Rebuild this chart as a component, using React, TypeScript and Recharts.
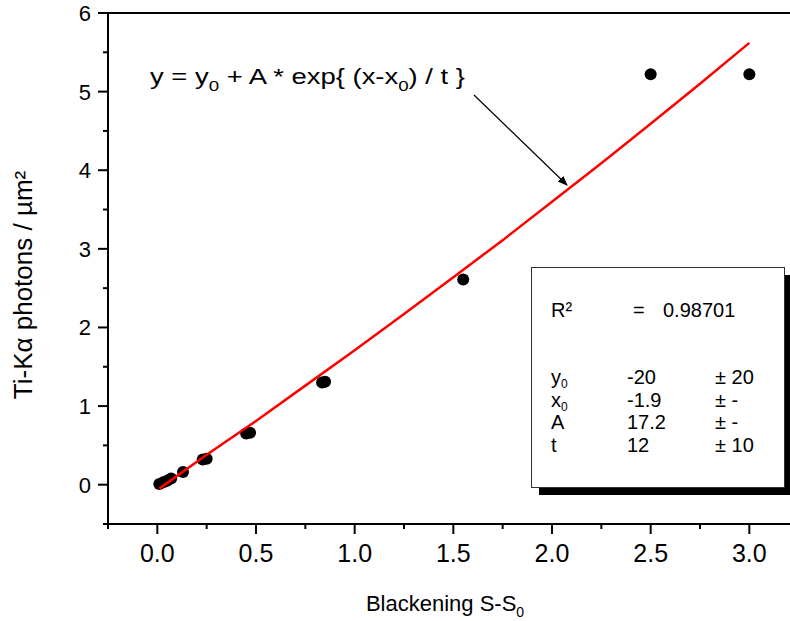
import React from 'react';
import { ScatterChart, Scatter, XAxis, YAxis } from 'recharts';

// measured points (blackening vs photons per µm²)
const pointX = [0.01, 0.03, 0.05, 0.07, 0.13, 0.23, 0.25, 0.45, 0.47, 0.835, 0.85, 1.55, 2.5, 3.0];
const pointY = [0.01, 0.03, 0.05, 0.08, 0.16, 0.32, 0.33, 0.65, 0.66, 1.3, 1.31, 2.61, 5.22, 5.22];

// fitted curve
const fitX = [0.01, 0.25, 0.5, 0.75, 1.0, 1.25, 1.5, 1.75, 2.0, 2.25, 2.5, 2.75, 3.0];
const fitY = [-0.05, 0.38, 0.81, 1.26, 1.71, 2.17, 2.64, 3.11, 3.6, 4.09, 4.59, 5.1, 5.62];

const xTicks = [-0.25, 0, 0.25, 0.5, 0.75, 1, 1.25, 1.5, 1.75, 2, 2.25, 2.5, 2.75, 3, 3.25, 3.5];
const yTicks = [-0.5, 0, 0.5, 1, 1.5, 2, 2.5, 3, 3.5, 4, 4.5, 5, 5.5, 6];

const fitParams = [
  { name: 'y', sub: '0', value: '-20', err: '± 20' },
  { name: 'x', sub: '0', value: '-1.9', err: '± -' },
  { name: 'A', sub: '', value: '17.2', err: '± -' },
  { name: 't', sub: '', value: '12', err: '± 10' },
];

const points = pointX.map((x, i) => ({ x, y: pointY[i] }));
const fit = fitX.map((x, i) => ({ x, y: fitY[i] }));

const FONT = '"Liberation Sans", Arial, sans-serif';

const isMajor = (v: number, step: number) => Math.abs(v / step - Math.round(v / step)) < 1e-6;

const BottomTick = ({ x, y, payload }: any) => {
  const major = isMajor(payload.value, 0.5);
  return (
    <g>
      <line x1={x} x2={x} y1={y} y2={y + (major ? 10 : 5)} stroke="#000" strokeWidth={2} />
      {major && payload.value >= 0 && payload.value <= 3 && (
        <text x={x} y={y + 38} textAnchor="middle" fontSize={25} fontFamily={FONT} fill="#000">
          {payload.value.toFixed(1)}
        </text>
      )}
    </g>
  );
};

const TopTick = ({ x, y, payload }: any) => {
  const major = isMajor(payload.value, 0.5);
  return <line x1={x} x2={x} y1={y} y2={y - (major ? 10 : 6)} stroke="#000" strokeWidth={2} />;
};

const LeftTick = ({ x, y, payload }: any) => {
  const major = isMajor(payload.value, 1);
  return (
    <g>
      <line x1={x} x2={x - (major ? 10 : 5)} y1={y} y2={y} stroke="#000" strokeWidth={2} />
      {major && (
        <text x={x - 17} y={y + 8} textAnchor="end" fontSize={22} fontFamily={FONT} fill="#000">
          {payload.value}
        </text>
      )}
    </g>
  );
};

const Dot = ({ cx, cy }: any) => <circle cx={cx} cy={cy} r={6} fill="#000" />;

export default function App() {
  return (
    <div style={{ position: 'absolute', left: 0, top: 0, width: 790, height: 621, overflow: 'hidden', background: '#fff' }}>
      <ScatterChart width={853} height={621} margin={{ top: 3, right: 5, bottom: 37, left: 48 }}>
        <XAxis
          dataKey="x"
          type="number"
          domain={[-0.25, 3.5]}
          ticks={xTicks}
          interval={0}
          height={60}
          tickSize={0}
          tickMargin={0}
          tickLine={false}
          axisLine={{ stroke: '#000', strokeWidth: 2 }}
          tick={BottomTick}
        />
        <XAxis
          xAxisId="top"
          orientation="top"
          type="number"
          domain={[-0.25, 3.5]}
          ticks={xTicks}
          interval={0}
          height={10}
          tickSize={0}
          tickMargin={0}
          tickLine={false}
          axisLine={{ stroke: '#000', strokeWidth: 2 }}
          tick={TopTick}
        />
        <YAxis
          dataKey="y"
          type="number"
          domain={[-0.5, 6]}
          ticks={yTicks}
          interval={0}
          width={60}
          tickSize={0}
          tickMargin={0}
          tickLine={false}
          axisLine={{ stroke: '#000', strokeWidth: 2 }}
          tick={LeftTick}
        />
        <Scatter data={points} shape={Dot} isAnimationActive={false} />
        <Scatter
          data={fit}
          line={{ stroke: '#ff0000', strokeWidth: 2.5 }}
          lineType="joint"
          shape={() => <g />}
          isAnimationActive={false}
        />
      </ScatterChart>

      <svg width={790} height={621} style={{ position: 'absolute', left: 0, top: 0, pointerEvents: 'none' }} fontFamily={FONT}>
        <defs>
          <marker id="arrow" markerWidth="10" markerHeight="8" refX="9" refY="4" orient="auto" markerUnits="userSpaceOnUse">
            <path d="M0,0 L10,4 L0,8 z" fill="#000" />
          </marker>
        </defs>
        <text x={150} y={84} fontSize={22} fill="#000" xmlSpace="preserve" textLength={315} lengthAdjust="spacingAndGlyphs">
          y = y<tspan fontSize={15} dy={7}>0</tspan>
          <tspan dy={-7}> + A * exp{'{'} (x-x</tspan>
          <tspan fontSize={15} dy={7}>0</tspan>
          <tspan dy={-7}>) / t {'}'}</tspan>
        </text>
        <line x1={474} y1={95} x2={567} y2={185} stroke="#000" strokeWidth={1.2} markerEnd="url(#arrow)" />

        <rect x={539} y={275} width={253} height={220} fill="#000" />
        <rect x={531.5} y={267.5} width={253} height={220} fill="#fff" stroke="#333" strokeWidth={1} />
        <text x={551} y={317} fontSize={20} fill="#000">R²</text>
        <text x={633} y={317} fontSize={20} fill="#000">=</text>
        <text x={663} y={317} fontSize={20} fill="#000">0.98701</text>
        {fitParams.map((p, i) => {
          const by = 384 + i * 22.7;
          return (
            <g key={p.name + i}>
              <text x={551} y={by} fontSize={20} fill="#000">
                {p.name}
                {p.sub && <tspan fontSize={12} dy={4}>{p.sub}</tspan>}
              </text>
              <text x={627} y={by} fontSize={20} fill="#000">{p.value}</text>
              <text x={715} y={by} fontSize={20} fill="#000">{p.err}</text>
            </g>
          );
        })}

        <text x={445} y={611} fontSize={22} fill="#000" textAnchor="middle">
          Blackening S-S<tspan fontSize={14} dy={6}>0</tspan>
        </text>
        <text x={32} y={285} fontSize={26} fill="#000" textAnchor="middle" transform="rotate(-90 32 285)">
          Ti-Kα photons / µm²
        </text>
      </svg>
    </div>
  );
}
